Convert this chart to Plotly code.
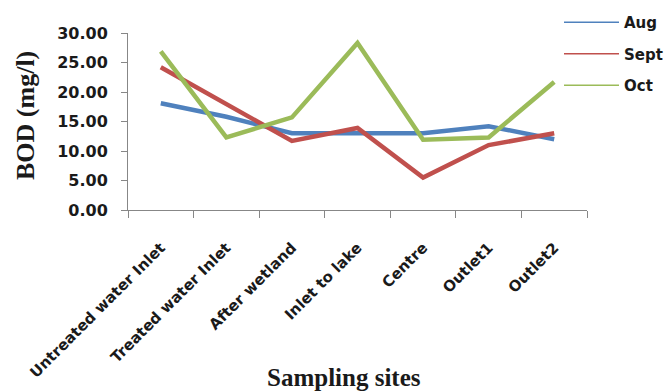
import plotly.graph_objects as go

# Sampling sites along the treatment / lake system
sites = ["Untreated water Inlet", "Treated water Inlet", "After wetland",
         "Inlet to lake", "Centre", "Outlet1", "Outlet2"]

# BOD (mg/l) per month
bod_aug = [18.1, 15.8, 13.0, 13.0, 13.0, 14.2, 12.0]
bod_sept = [24.2, 17.9, 11.7, 13.9, 5.5, 11.0, 13.0]
bod_oct = [26.9, 12.3, 15.7, 28.3, 11.9, 12.3, 21.7]

months = ["Aug", "Sept", "Oct"]
colors = ["#4F81BD", "#C0504D", "#9BBB59"]
series = [bod_aug, bod_sept, bod_oct]

fig = go.Figure()

for name, vals, col in zip(months, series, colors):
    # thick data line
    fig.add_trace(go.Scatter(
        x=sites, y=vals, mode="lines", name=name,
        line=dict(color=col, width=4.5),
        showlegend=False, hoverinfo="x+y+name",
    ))
    # thin legend key
    fig.add_trace(go.Scatter(
        x=[None], y=[None], mode="lines", name=name,
        line=dict(color=col, width=1.5),
        legendgroup=name, showlegend=True,
    ))

tick_font = dict(family="DejaVu Sans", size=15, color="#1a1a1a", weight="bold")
axis_gray = "#878787"

fig.update_layout(
    width=666, height=392,
    margin=dict(l=128, r=79, t=33, b=182, autoexpand=False),
    paper_bgcolor="white", plot_bgcolor="white",
    showlegend=True,
    legend=dict(
        xref="container", yref="container",
        x=559 / 666, y=1 - 6 / 392, xanchor="left", yanchor="top",
        font=dict(family="DejaVu Sans", size=15, color="#1a1a1a", weight="bold"),
        itemwidth=55, tracegroupgap=9, traceorder="grouped",
        bgcolor="rgba(0,0,0,0)", borderwidth=0,
    ),
    xaxis=dict(
        type="category", range=[-0.5, 6.5],
        showline=True, linecolor=axis_gray, linewidth=1,
        ticks="outside", tickson="boundaries", ticklen=7, tickcolor=axis_gray,
        tickangle=-45, tickfont=tick_font, ticklabelstandoff=22,
        showgrid=False, zeroline=False,
    ),
    yaxis=dict(
        range=[0, 30], dtick=5, tickformat=".2f",
        showline=True, linecolor=axis_gray, linewidth=1,
        ticks="outside", ticklen=6, tickcolor=axis_gray,
        tickfont=dict(family="DejaVu Sans", size=16, color="#1a1a1a", weight="bold"),
        ticklabelstandoff=10,
        showgrid=False, zeroline=False,
    ),
    annotations=[
        dict(text="BOD (mg/l)", textangle=-90, showarrow=False,
             xref="paper", yref="paper", x=(25 - 128) / 459, y=(210 - 116) / 177,
             xanchor="center", yanchor="middle",
             font=dict(family="Liberation Serif", size=26, color="#1a1a1a", weight="bold")),
        dict(text="Sampling sites", showarrow=False,
             xref="paper", yref="paper", x=(344 - 128) / 459, y=(210 - 377) / 177,
             xanchor="center", yanchor="middle",
             font=dict(family="Liberation Serif", size=25, color="#1a1a1a", weight="bold")),
    ],
)

fig.write_html("out.html")
